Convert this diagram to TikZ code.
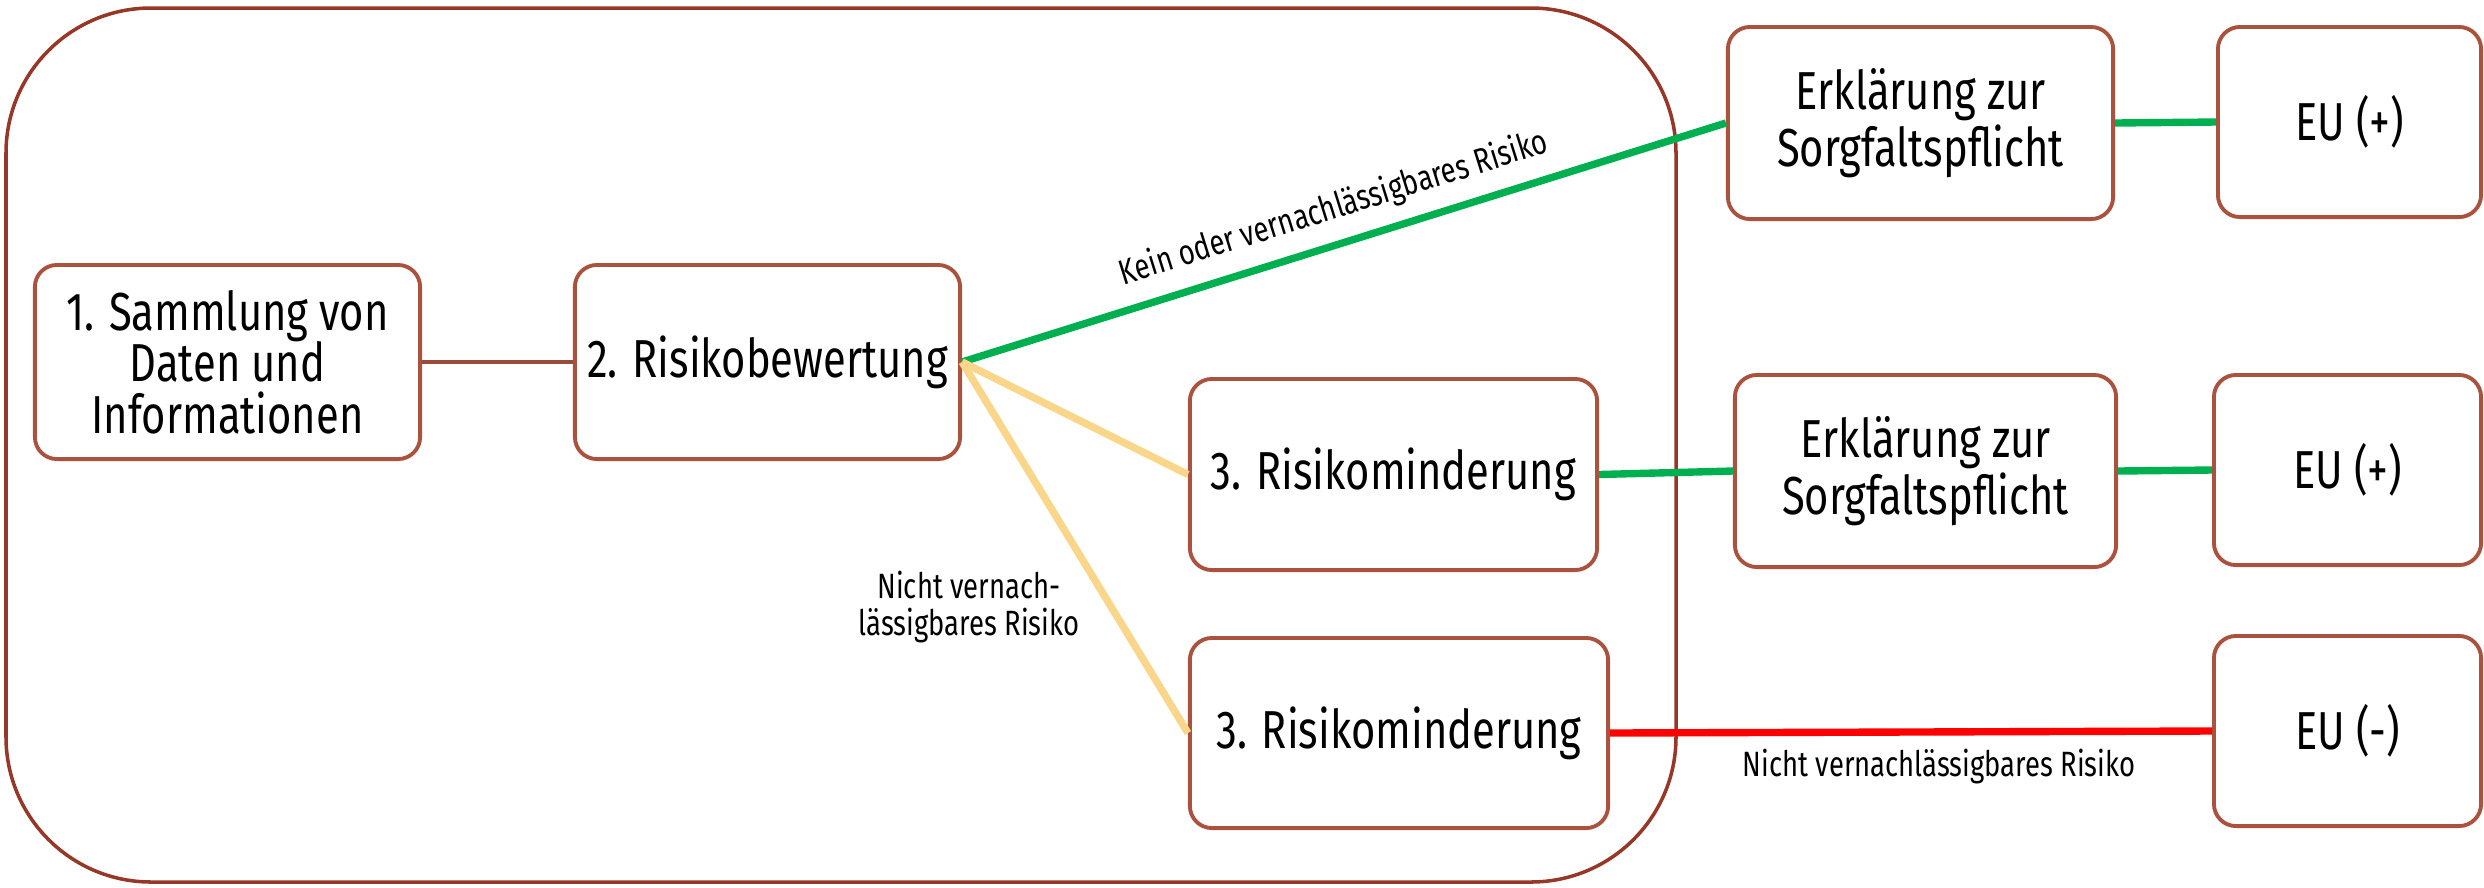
\documentclass[tikz,border=0pt]{standalone}
\usepackage{fontspec}
\setmainfont{Fira Sans}[FakeStretch=0.78]
\definecolor{boxbrown}{RGB}{170,82,62}
\definecolor{outerbrown}{RGB}{150,55,40}
\definecolor{lgreen}{RGB}{0,176,80}
\definecolor{lyellow}{RGB}{250,214,138}
\definecolor{lred}{RGB}{255,0,0}
\begin{document}
\begin{tikzpicture}[x=0.01cm,y=-0.01cm,
  box/.style={draw=boxbrown,line width=1.1pt,rounded corners=0.22cm,align=center,
    inner sep=0pt,font=\fontsize{15.2}{14.65}\selectfont,fill=white},
  lbl/.style={font=\fontsize{10}{10.5}\selectfont,align=center,inner sep=1pt},
  gline/.style={draw=lgreen,line width=2.1pt},
  yline/.style={draw=lyellow,line width=2.1pt},
  rline/.style={draw=lred,line width=2.1pt},
  bline/.style={draw=boxbrown!90!black,line width=1.3pt}]
\useasboundingbox (0,0) rectangle (2484,887);
\draw[outerbrown,line width=1pt,rounded corners=1.45cm] (6,8) rectangle (1676,882);
\node[box,minimum width=3.85cm,minimum height=1.94cm] (b1) at (227.5,362) {1. Sammlung von\\Daten und\\Informationen};
\node[box,minimum width=3.85cm,minimum height=1.94cm] (b2) at (767.5,362) {2. Risikobewertung};
\node[box,minimum width=4.07cm,minimum height=1.91cm] (r1) at (1393.5,474.5) {3. Risikominderung};
\node[box,minimum width=4.18cm,minimum height=1.90cm] (r2) at (1399,733) {3. Risikominderung};
\node[box,minimum width=3.85cm,minimum height=1.92cm] (e1) at (1920.5,123) {Erklärung zur\\Sorgfaltspflicht};
\node[box,minimum width=3.81cm,minimum height=1.92cm] (e2) at (1925.5,471) {Erklärung zur\\Sorgfaltspflicht};
\node[box,minimum width=2.63cm,minimum height=1.90cm] (eu1) at (2349.5,122) {EU (+)};
\node[box,minimum width=2.67cm,minimum height=1.90cm] (eu2) at (2347.5,470) {EU (+)};
\node[box,minimum width=2.67cm,minimum height=1.90cm] (eu3) at (2347.5,731) {EU (-)};
\draw[bline] (b1.east) -- (b2.east -| b2.west);
\draw[gline] (b2.east) -- node[lbl,midway,above=3pt,sloped] {Kein oder vernachlässigbares Risiko} (e1.west);
\draw[yline] (b2.east) -- (r1.west);
\draw[yline] (b2.east) -- (r2.west);
\draw[gline] (r1.east) -- (e2.west);
\draw[gline] (e1.east) -- (eu1.west);
\draw[gline] (e2.east) -- (eu2.west);
\draw[rline] (r2.east) -- (eu3.west);
\node[lbl] (l2) at (969,607) {Nicht vernach-\\lässigbares Risiko};
\node[lbl] (l3) at (1939,767) {Nicht vernachlässigbares Risiko};
\end{tikzpicture}
\end{document}
